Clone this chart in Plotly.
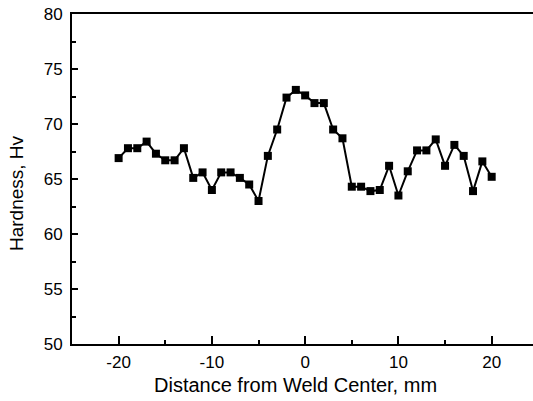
import plotly.graph_objects as go

distance_mm = list(range(-20, 21))
hardness_hv = [66.9, 67.8, 67.8, 68.4, 67.3, 66.7, 66.7, 67.8, 65.1, 65.6,
               64.0, 65.6, 65.6, 65.1, 64.5, 63.0, 67.1, 69.5, 72.4, 73.1,
               72.6, 71.9, 71.9, 69.5, 68.7, 64.3, 64.3, 63.9, 64.0, 66.2,
               63.5, 65.7, 67.6, 67.6, 68.6, 66.2, 68.1, 67.1, 63.9, 66.6, 65.2]
x_ticks = [-20, -10, 0, 10, 20]
y_ticks = [50, 55, 60, 65, 70, 75, 80]

FONT = "Liberation Sans, Arial, sans-serif"

fig = go.Figure(go.Scatter(
    x=distance_mm, y=hardness_hv, mode="lines+markers",
    line=dict(color="black", width=2),
    marker=dict(symbol="square", size=8, color="black"),
))

fig.update_layout(
    width=533, height=401,
    margin=dict(l=72, r=0, t=14, b=57),
    paper_bgcolor="white", plot_bgcolor="white",
    showlegend=False,
    font=dict(family=FONT, size=17, color="black"),
)
fig.update_xaxes(
    range=[-25, 24.43], tickvals=x_ticks, ticktext=[str(v) for v in x_ticks],
    showline=True, linecolor="black", linewidth=2, mirror=True,
    ticks="inside", ticklen=8, tickwidth=2, tickcolor="black",
    minor=dict(dtick=5, tick0=0, ticks="inside", ticklen=4, tickwidth=2, tickcolor="black"),
    showgrid=False, zeroline=False, ticklabelstandoff=2,
    tickfont=dict(size=17),
)
fig.update_yaxes(
    range=[50, 80], tickvals=y_ticks, ticktext=[str(v) for v in y_ticks],
    showline=True, linecolor="black", linewidth=2, mirror=False,
    ticks="inside", ticklen=6, tickwidth=2, tickcolor="black",
    minor=dict(dtick=2.5, tick0=0, ticks="inside", ticklen=4, tickwidth=2, tickcolor="black"),
    showgrid=False, zeroline=False, ticklabelstandoff=4,
    tickfont=dict(size=17),
)
fig.add_annotation(text="Distance from Weld Center, mm", xref="paper", yref="paper",
                   x=(295 - 72) / 461, y=-(385 - 344) / 330, showarrow=False,
                   xanchor="center", yanchor="middle", font=dict(size=20))
fig.add_annotation(text="Hardness, Hv", xref="paper", yref="paper",
                   x=-(72 - 16) / 461, y=(344 - 193) / 330, showarrow=False, textangle=-90,
                   xanchor="center", yanchor="middle", font=dict(size=19))

fig.write_html("out.html")
